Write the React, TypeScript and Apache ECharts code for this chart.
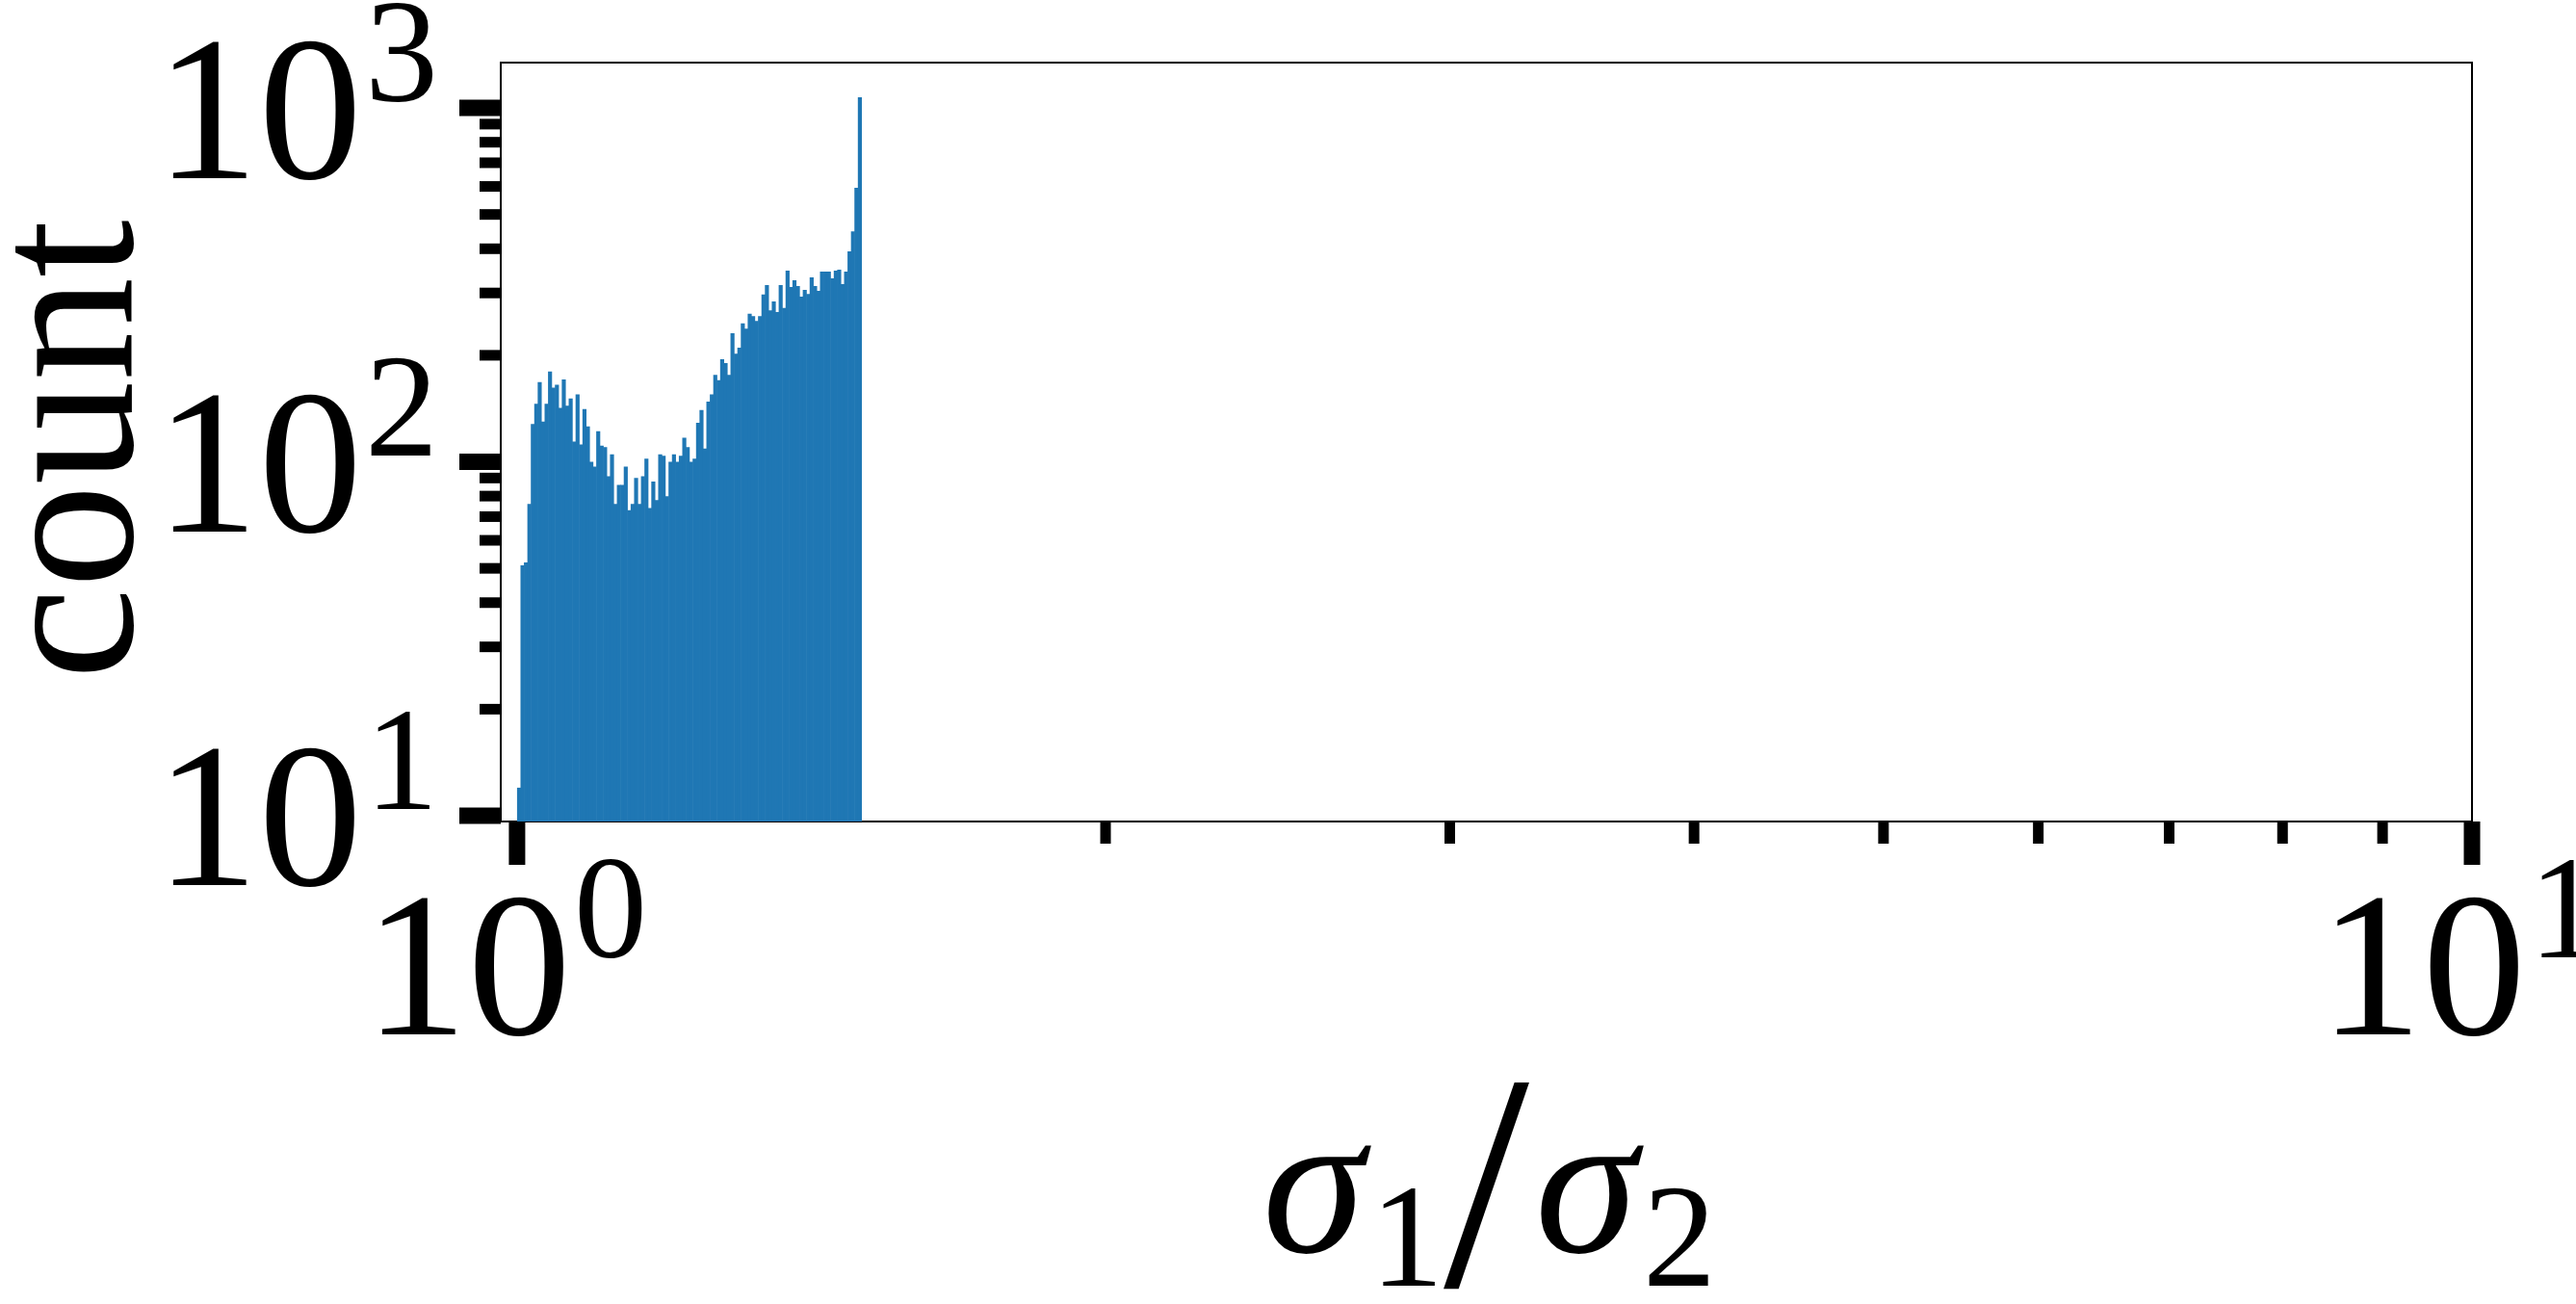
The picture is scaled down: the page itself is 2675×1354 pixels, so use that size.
import React, { useEffect, useRef } from 'react';
import * as echarts from 'echarts';

// ---------------- data ----------------
// histogram: 100 logarithmically spaced bins between BIN_LO and BIN_HI
const BIN_LO = 1.0;
const BIN_HI = 1.5;
const COUNTS = [
  12, 51, 52, 76, 128, 146, 168, 130, 146, 180,
  162, 165, 142, 171, 144, 151, 114, 155, 112, 141,
  126, 100, 97, 122, 111, 110, 91, 105, 76, 86,
  86, 97, 73, 76, 90, 76, 91, 102, 74, 88,
  78, 105, 104, 80, 100, 105, 100, 104, 117, 110,
  100, 102, 129, 140, 109, 148, 155, 176, 170, 195,
  190, 176, 231, 202, 210, 246, 238, 262, 258, 250,
  258, 297, 316, 268, 284, 265, 316, 272, 347, 312,
  326, 314, 293, 306, 298, 332, 314, 304, 345, 345,
  345, 330, 347, 349, 318, 345, 393, 448, 595, 1072,
];

const X_MIN = 0.981;
const X_MAX = 10;
const Y_MIN = 9.63;
const Y_MAX = 1343;

const X_MAJOR_TICKS = [1, 10];
const X_TICK_EXPONENTS = ['0', '1'];
const X_MINOR_TICKS = [2, 3, 4, 5, 6, 7, 8, 9];
const Y_MAJOR_TICKS = [10, 100, 1000];
const Y_TICK_EXPONENTS = ['1', '2', '3'];
const Y_MINOR_TICKS = [20, 30, 40, 50, 60, 70, 80, 90, 200, 300, 400, 500, 600, 700, 800, 900];
const TICK_BASE = '10';
const X_TITLE = '{s|σ}{b|1}{sl|/}{s|σ}{b|2}';
const Y_TITLE = 'count';

// ---------------- style ----------------
const FONT = 'Liberation Serif';
const BAR_COLOR = '#1f77b4';
const BASE_SIZE = 215;
const SUP_SIZE = 152;

function textWidth(text: string, size: number, style = '') {
  const ctx = document.createElement('canvas').getContext('2d')!;
  ctx.font = `${style} ${size}px ${FONT}`;
  return ctx.measureText(text).width;
}

export default function App() {
  const ref = useRef<HTMLDivElement>(null);

  useEffect(() => {
    if (!ref.current) return;
    const chart = echarts.init(ref.current, undefined, { renderer: 'svg' });

    const n = COUNTS.length;
    const edges = Array.from({ length: n + 1 }, (_, i) => BIN_LO * Math.pow(BIN_HI / BIN_LO, i / n));
    const histData = COUNTS.map((c, i) => [edges[i], edges[i + 1], c]);

    const xTickData = [
      ...X_MAJOR_TICKS.map((v, i) => [v, Y_MIN, 1, i]),
      ...X_MINOR_TICKS.map((v) => [v, Y_MIN, 0, -1]),
    ];
    const yTickData = [
      ...Y_MAJOR_TICKS.map((v, i) => [X_MIN, v, 1, i]),
      ...Y_MINOR_TICKS.map((v) => [X_MIN, v, 0, -1]),
    ];

    const baseW = textWidth(TICK_BASE, BASE_SIZE);
    const GAP = 3;

    const txt = (text: string, x: number, y: number, size: number, align: string) => ({
      type: 'text',
      x,
      y,
      silent: true,
      style: {
        text,
        fontSize: size,
        fontFamily: FONT,
        fill: '#000',
        align,
        verticalAlign: 'middle',
      },
    });

    const option: any = {
      animation: false,
      backgroundColor: '#ffffff',
      textStyle: { fontFamily: FONT },
      grid: {
        left: 520,
        top: 65,
        width: 2047,
        height: 788,
        show: true,
        borderColor: '#000',
        borderWidth: 2,
        backgroundColor: 'transparent',
        outerBoundsMode: 'none',
      },
      xAxis: {
        type: 'log',
        logBase: 10,
        min: X_MIN,
        max: X_MAX,
        axisLine: { show: false },
        axisTick: { show: false },
        axisLabel: { show: false },
        splitLine: { show: false },
        name: X_TITLE,
        nameLocation: 'middle',
        nameGap: 254,
        nameTextStyle: {
          color: '#000',
          fontFamily: FONT,
          rich: {
            s: {
              fontFamily: FONT,
              fontStyle: 'italic',
              fontSize: 215,
              lineHeight: 240,
              padding: [0, 6, 0, 6],
              color: '#000',
            },
            b: { fontFamily: FONT, fontSize: SUP_SIZE, lineHeight: 130, padding: [114, 0, 0, 0], color: '#000' },
            sl: { fontFamily: FONT, fontSize: 320, lineHeight: 200, color: '#000' },
          },
        },
      },
      yAxis: {
        type: 'log',
        logBase: 10,
        min: Y_MIN,
        max: Y_MAX,
        axisLine: { show: false },
        axisTick: { show: false },
        axisLabel: { show: false },
        splitLine: { show: false },
        name: Y_TITLE,
        nameLocation: 'middle',
        nameRotate: 90,
        nameGap: 348,
        nameTextStyle: {
          color: '#000',
          fontFamily: FONT,
          fontSize: 215,
          lineHeight: 215,
          padding: [0, 16, 0, 0],
        },
      },
      series: [
        {
          type: 'custom',
          name: 'hist',
          silent: true,
          data: histData,
          encode: { x: [0, 1], y: 2 },
          renderItem: (params: any, api: any) => {
            const cs = params.coordSys;
            const p0 = api.coord([api.value(0), api.value(2)]);
            const p1 = api.coord([api.value(1), api.value(2)]);
            const bottom = cs.y + cs.height;
            return {
              type: 'rect',
              shape: { x: p0[0], y: p0[1], width: p1[0] - p0[0] + 0.6, height: bottom - p0[1] },
              style: { fill: BAR_COLOR },
            };
          },
        },
        {
          type: 'custom',
          name: 'xticks',
          silent: true,
          clip: false,
          z: 10,
          data: xTickData,
          encode: { x: 0, y: 1 },
          renderItem: (params: any, api: any) => {
            const cs = params.coordSys;
            const v = api.value(0);
            const major = api.value(2) === 1;
            const px = api.coord([v, Y_MIN])[0];
            const bottom = cs.y + cs.height;
            const w = major ? 17 : 11;
            const len = major ? 45 : 23;
            const children: any[] = [
              { type: 'rect', shape: { x: px - w / 2, y: bottom, width: w, height: len }, style: { fill: '#000' } },
            ];
            if (major) {
              const exp = X_TICK_EXPONENTS[api.value(3)];
              const supW = textWidth(exp, SUP_SIZE);
              const total = baseW + GAP + supW;
              const left = px - 12 - total / 2;
              children.push(txt(TICK_BASE, left, bottom + 148, BASE_SIZE, 'left'));
              children.push(txt(exp, left + baseW + GAP, bottom + 90, SUP_SIZE, 'left'));
            }
            return { type: 'group', children };
          },
        },
        {
          type: 'custom',
          name: 'yticks',
          silent: true,
          clip: false,
          z: 10,
          data: yTickData,
          encode: { x: 0, y: 1 },
          renderItem: (params: any, api: any) => {
            const cs = params.coordSys;
            const v = api.value(1);
            const major = api.value(2) === 1;
            const py = api.coord([X_MAX, v])[1];
            const h = major ? 17 : 11;
            const len = major ? 43 : 22;
            const children: any[] = [
              { type: 'rect', shape: { x: cs.x - len, y: py - h / 2, width: len, height: h }, style: { fill: '#000' } },
            ];
            if (major) {
              const exp = Y_TICK_EXPONENTS[api.value(3)];
              const supW = textWidth(exp, SUP_SIZE);
              const supLeft = cs.x - 65 - supW;
              children.push(txt(TICK_BASE, supLeft - GAP, py, BASE_SIZE, 'right'));
              children.push(txt(exp, supLeft, py - 58, SUP_SIZE, 'left'));
            }
            return { type: 'group', children };
          },
        },
      ],
    };

    chart.setOption(option);
    return () => chart.dispose();
  }, []);

  return (
    <div
      ref={ref}
      style={{ position: 'absolute', left: 0, top: 0, width: 2675, height: 1354, background: '#fff' }}
    />
  );
}
